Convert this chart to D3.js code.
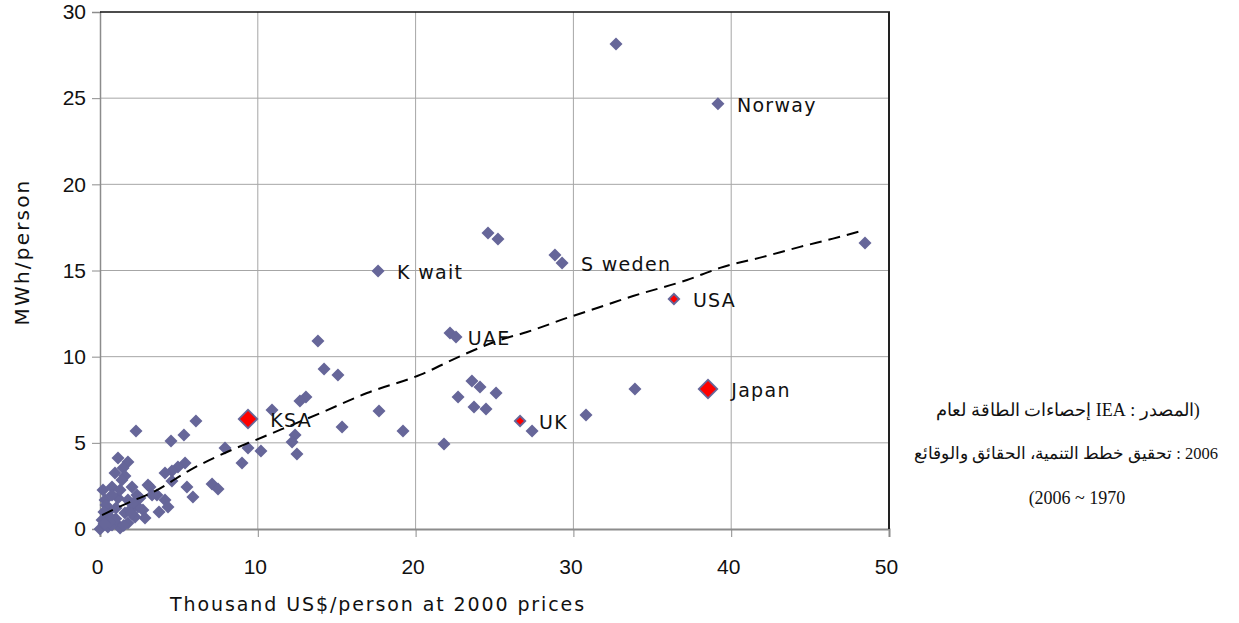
<!DOCTYPE html>
<html>
<head>
<meta charset="utf-8">
<script src="https://cdn.jsdelivr.net/npm/d3@7/dist/d3.min.js"></script>
<style>
  html, body { margin: 0; padding: 0; background: #fff; }
  body { position: relative; width: 1239px; height: 623px; overflow: hidden; }
  svg { display: block; position: absolute; left: 0; top: 0; }
  .src { position: absolute; left: 918px; width: 300px; text-align: center;
         unicode-bidi: isolate; white-space: nowrap;
         font-family: "Liberation Serif", "DejaVu Serif", serif; font-size: 18px; color: #111;
         line-height: 24px; }
</style>
</head>
<body>
<svg id="chart" width="1239" height="623"></svg>
<script>
// ---- data ----
const xTicks = [0, 10, 20, 30, 40, 50];
const yTicks = [0, 5, 10, 15, 20, 25, 30];

// GDP per person (thousand US$ at 2000 prices)
const gdp = [
  32.7, 39.16, 48.48, 24.59, 25.22, 28.83, 29.28, 17.62, 22.18, 22.56,
  33.9, 30.8, 27.38, 23.57, 24.08, 25.1, 22.69, 23.7, 24.46, 19.2,
  21.8, 13.81, 14.2, 15.08, 13.05, 12.67, 10.9, 6.08, 5.32, 17.68,
  15.34, 12.36, 12.17, 12.48, 10.2, 9.38, 7.92, 2.28, 4.5, 9.0,
  5.39, 4.94, 4.56, 4.12, 7.1, 7.48, 5.51, 5.89, 3.17, 3.61,
  4.12, 3.74, 2.72, 4.31, 1.14, 1.77, 1.46, 0.95, 1.58, 4.56,
  0.19, 0.76, 2.03, 3.04, 3.3, 2.34, 1.14, 0.32, 0.63, 1.58,
  2.41, 0.13, 0.95, 0.0, 0.5, 1.77, 1.27, 2.85, 2.22, 0.38,
  0.76, 1.27, 1.77, 0.5, 1.01, 1.9, 0.25, 1.39, 2.53, 0.76,
  0.25, 2.1, 1.0, 0.6, 1.5, 2.0, 0.3
];
// Electricity use per person (MWh/person)
const mwh = [
  28.15, 24.67, 16.6, 17.18, 16.83, 15.9, 15.44, 14.97, 11.38, 11.14,
  8.12, 6.62, 5.69, 8.59, 8.24, 7.89, 7.66, 7.08, 6.96, 5.69,
  4.93, 10.91, 9.29, 8.94, 7.66, 7.43, 6.91, 6.27, 5.46, 6.85,
  5.92, 5.46, 5.05, 4.35, 4.53, 4.7, 4.7, 5.69, 5.11, 3.83,
  3.83, 3.6, 3.37, 3.25, 2.61, 2.32, 2.44, 1.86, 2.44, 1.97,
  1.68, 0.99, 1.1, 1.28, 4.12, 3.89, 3.54, 3.25, 3.08, 2.79,
  2.26, 2.44, 2.44, 2.55, 1.97, 1.97, 1.8, 1.68, 1.1, 0.93,
  1.28, 0.52, 0.41, 0.0, 0.12, 0.35, 0.06, 0.64, 0.7, 1.39,
  1.97, 2.26, 1.68, 0.81, 1.22, 1.1, 0.99, 2.84, 1.8, 0.23,
  0.29, 1.5, 0.6, 0.4, 0.2, 0.9, 0.3
];

// highlighted countries
const hiNames = ["KSA", "Japan", "USA", "UK"];
const hiGdp   = [9.38, 38.53, 36.37, 26.62];
const hiMwh   = [6.38, 8.12, 13.35, 6.27];
const hiBig   = [true, true, false, false];

// text labels of countries
const labelNames = ["Norway", "S weden", "K wait", "USA", "UAE", "Japan", "KSA", "UK"];
const labelGdp   = [39.16, 29.28, 17.62, 36.37, 22.1, 38.8, 9.58, 26.62];
const labelMwh   = [24.67, 15.44, 14.97, 13.35, 11.14, 8.12, 6.38, 6.27];

// trend line (dashed)
const trendX = [0.13, 1.46, 3.61, 5.7, 8.05, 10.33, 14.13, 16.92, 20.28, 23.0, 25.35, 27.06, 29.6, 31.69, 33.78, 37.2, 39.29, 42.02, 44.36, 46.45, 48.48];
const trendY = [0.81, 1.39, 2.26, 3.42, 4.47, 5.34, 6.79, 7.89, 8.94, 10.1, 10.97, 11.43, 12.25, 12.88, 13.52, 14.45, 15.15, 15.79, 16.37, 16.85, 17.35];

const xTitle = "Thousand US$/person at 2000 prices";
const yTitle = "MWh/person";

// source note words (logical order)
const wSource = "المصدر";
const wStats = ["إحصاءات", "الطاقة", "لعام"];
const wTitle = ["تحقيق", "خطط", "التنمية،", "الحقائق", "والوقائع"];
const sourceLines = [
  "(" + wSource + " : IEA " + wStats.join(" "),
  "2006 : " + wTitle.join(" "),
  "(2006 ~ 1970"
];
const sourceDir = ["rtl", "rtl", "ltr"];
const sourceSize = [18, 16.5, 18];

// ---- layout ----
const svg = d3.select("#chart");
const L = 100, R = 889, T = 12, B = 529;
const x = d3.scaleLinear().domain([0, 50]).range([L, R]);
const y = d3.scaleLinear().domain([0, 30]).range([B, T]);
const markerColor = "#666699";
const tickFont = "Liberation Sans, Arial, sans-serif";

// grid
const g = svg.append("g");
g.selectAll("line.vg").data(xTicks.slice(1, -1)).enter().append("line")
  .attr("x1", d => x(d)).attr("x2", d => x(d)).attr("y1", T).attr("y2", B)
  .attr("stroke", "#a6a6a6").attr("stroke-width", 1);
g.selectAll("line.hg").data(yTicks.slice(1, -1)).enter().append("line")
  .attr("x1", L).attr("x2", R).attr("y1", d => y(d)).attr("y2", d => y(d))
  .attr("stroke", "#a6a6a6").attr("stroke-width", 1);

// axes
const xAxis = d3.axisBottom(x).tickValues(xTicks).tickSize(8).tickPadding(22).tickFormat(d3.format("d"));
const gx = svg.append("g").attr("transform", `translate(0,${B})`).call(xAxis);
gx.select(".domain").attr("stroke", "#8c8c8c").attr("stroke-width", 2);
gx.selectAll(".tick line").attr("stroke", "#8c8c8c");
gx.selectAll("text").attr("font-family", tickFont).attr("font-size", 21).attr("fill", "#111")
  .attr("transform", "translate(-3,0)");

const yAxis = d3.axisLeft(y).tickValues(yTicks).tickSize(8).tickPadding(6).tickFormat(d3.format("d"));
const gy = svg.append("g").attr("transform", `translate(${L},0)`).call(yAxis);
gy.select(".domain").attr("stroke", "#8c8c8c").attr("stroke-width", 1.5);
gy.selectAll(".tick line").attr("stroke", "#8c8c8c");
gy.selectAll("text").attr("font-family", tickFont).attr("font-size", 21).attr("fill", "#111");

// top and right border
svg.append("line").attr("x1", L).attr("x2", R + 1).attr("y1", T).attr("y2", T)
  .attr("stroke", "#111").attr("stroke-width", 1.5);
svg.append("line").attr("x1", R).attr("x2", R).attr("y1", T).attr("y2", B)
  .attr("stroke", "#222").attr("stroke-width", 2);

// diamond path helper
const diamond = r => `M0,${-r}L${r},0L0,${r}L${-r},0Z`;

// points
const pts = gdp.map((v, i) => ({ x: v, y: mwh[i] }));
svg.append("g").selectAll("path").data(pts).enter().append("path")
  .attr("d", diamond(6.5))
  .attr("transform", d => `translate(${x(d.x)},${y(d.y)})`)
  .attr("fill", markerColor);

// highlighted
const his = hiNames.map((n, i) => ({ n, x: hiGdp[i], y: hiMwh[i], big: hiBig[i] }));
const hg = svg.append("g");
hg.selectAll("path.o").data(his).enter().append("path")
  .attr("d", d => diamond(d.big ? 10.5 : 6.5))
  .attr("transform", d => `translate(${x(d.x)},${y(d.y)})`)
  .attr("fill", markerColor);
hg.selectAll("path.i").data(his).enter().append("path")
  .attr("d", d => diamond(d.big ? 8 : 3.8))
  .attr("transform", d => `translate(${x(d.x)},${y(d.y)})`)
  .attr("fill", "#ff0000");

// trend line
const trend = trendX.map((v, i) => [v, trendY[i]]);
svg.append("path")
  .attr("d", d3.line().curve(d3.curveMonotoneX).x(d => x(d[0])).y(d => y(d[1]))(trend))
  .attr("fill", "none").attr("stroke", "#000").attr("stroke-width", 2)
  .attr("stroke-dasharray", "12,7");

// country labels
const labs = labelNames.map((n, i) => ({ n, x: labelGdp[i], y: labelMwh[i] }));
svg.append("g").selectAll("text").data(labs).enter().append("text")
  .attr("x", d => x(d.x) + 19)
  .attr("y", d => y(d.y) + 1)
  .attr("dy", "0.35em")
  .attr("font-family", "DejaVu Sans, sans-serif")
  .attr("font-size", 19)
  .attr("letter-spacing", 1.3)
  .attr("fill", "#111")
  .text(d => d.n);

// axis titles
svg.append("text")
  .attr("x", 378).attr("y", 611)
  .attr("text-anchor", "middle")
  .attr("font-family", "DejaVu Sans, sans-serif")
  .attr("font-size", 19).attr("letter-spacing", 1.9)
  .attr("fill", "#111")
  .text(xTitle);
svg.append("text")
  .attr("transform", `translate(29,252) rotate(-90)`)
  .attr("text-anchor", "middle")
  .attr("font-family", "DejaVu Sans, sans-serif")
  .attr("font-size", 20).attr("letter-spacing", 2.2)
  .attr("fill", "#111")
  .text(yTitle);

// source note as HTML text
d3.select("body").selectAll("div.src").data(sourceLines).enter().append("div")
  .attr("class", "src")
  .attr("dir", (d, i) => sourceDir[i])
  .style("direction", (d, i) => sourceDir[i])
  .style("font-size", (d, i) => sourceSize[i] + "px")
  .style("left", (d, i) => (i === 2 ? 927 : 918) + "px")
  .style("top", (d, i) => (398 + i * 44) + "px")
  .text(d => d);
</script>
</body>
</html>
